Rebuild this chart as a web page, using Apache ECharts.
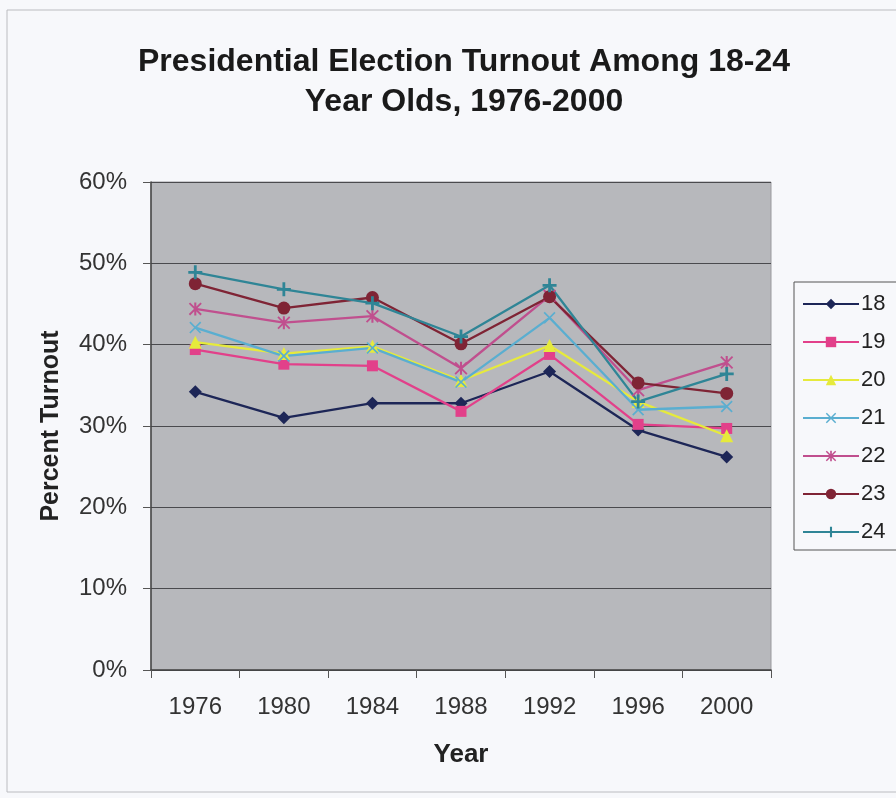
<!DOCTYPE html>
<html>
<head>
<meta charset="utf-8">
<script src="https://cdn.jsdelivr.net/npm/echarts@6/dist/echarts.min.js"></script>
<style>
  html, body { margin: 0; padding: 0; background: #f7f8fb; }
  #chart { width: 896px; height: 798px; }
</style>
</head>
<body>
<div id="chart"></div>
<script>
// Election years on the category axis
const years = ['1976', '1980', '1984', '1988', '1992', '1996', '2000'];
const yTicks = [0, 10, 20, 30, 40, 50, 60];

// Turnout (%) by single year of age
const age18 = [34.2, 31.0, 32.8, 32.8, 36.7, 29.5, 26.2];
const age19 = [39.4, 37.6, 37.4, 31.8, 38.8, 30.2, 29.7];
const age20 = [40.3, 38.9, 39.8, 35.6, 39.9, 33.0, 28.8];
const age21 = [42.1, 38.6, 39.6, 35.4, 43.3, 32.0, 32.4];
const age22 = [44.4, 42.7, 43.5, 37.1, 46.0, 34.4, 37.8];
const age23 = [47.5, 44.5, 45.8, 40.1, 45.9, 35.3, 34.0];
const age24 = [48.9, 46.8, 45.1, 41.0, 47.3, 33.0, 36.4];

const seriesNames = ['18', '19', '20', '21', '22', '23', '24'];
const seriesValues = [age18, age19, age20, age21, age22, age23, age24];

const colors = ['#1d2657', '#e2408a', '#e6ea3c', '#5aaed0', '#c04f8e', '#7f2435', '#2f8596'];

const plusPath = 'path://M-1,-5 L1,-5 L1,-1 L5,-1 L5,1 L1,1 L1,5 L-1,5 L-1,1 L-5,1 L-5,-1 L-1,-1 Z';
const crossPath = 'path://M-5,-4 L-4,-5 L5,4 L4,5 Z M4,-5 L5,-4 L-4,5 L-5,4 Z';
const starPath = 'path://M-0.8,-5 L0.8,-5 L0.8,5 L-0.8,5 Z M-5,-4 L-4,-5 L5,4 L4,5 Z M4,-5 L5,-4 L-4,5 L-5,4 Z';
const symbols = ['diamond', 'rect', 'triangle', crossPath, starPath, 'circle', plusPath];
const symbolSizes = [13, 11, 13, 12, 13, 13, 14];

const chart = echarts.init(document.getElementById('chart'), null, { renderer: 'canvas' });

const font = '"Liberation Sans", Arial, sans-serif';

chart.setOption({
  backgroundColor: '#f7f8fb',
  animation: false,
  title: {
    text: 'Presidential Election Turnout Among 18-24\nYear Olds, 1976-2000',
    left: 459,
    textAlign: 'center',
    top: 37,
    textStyle: { fontFamily: font, fontSize: 32, fontWeight: 'bold', color: '#1a1a1a', lineHeight: 40 }
  },
  legend: {
    orient: 'vertical',
    left: 794,
    top: 282,
    padding: [10, 14, 6, 8],
    itemWidth: 56,
    itemHeight: 13,
    itemGap: 14,
    borderColor: '#555',
    borderWidth: 1,
    backgroundColor: '#f7f8fb',
    textStyle: { fontFamily: font, fontSize: 22, color: '#222', lineHeight: 24, padding: [0, 0, 0, -3] },
    data: seriesNames
  },
  grid: {
    left: 151,
    right: 125,
    top: 182,
    bottom: 128,
    show: true,
    backgroundColor: '#b7b8bc',
    borderColor: '#9a9a9e',
    borderWidth: 1
  },
  xAxis: {
    type: 'category',
    data: years,
    boundaryGap: true,
    name: 'Year',
    nameLocation: 'middle',
    nameGap: 72,
    nameTextStyle: { fontFamily: font, fontSize: 26, fontWeight: 'bold', color: '#222' },
    axisLine: { lineStyle: { color: '#444', width: 1.5 } },
    axisTick: { show: true, length: 8, lineStyle: { color: '#555' } },
    axisLabel: { fontFamily: font, fontSize: 24, color: '#333', margin: 25 }
  },
  yAxis: {
    type: 'value',
    min: yTicks[0],
    max: yTicks[yTicks.length - 1],
    interval: 10,
    name: 'Percent Turnout',
    nameLocation: 'middle',
    nameGap: 87,
    nameTextStyle: { fontFamily: font, fontSize: 25, fontWeight: 'bold', color: '#222' },
    axisLine: { show: true, lineStyle: { color: '#444', width: 1.5 } },
    axisTick: { show: true, length: 8, lineStyle: { color: '#555' } },
    axisLabel: { fontFamily: font, fontSize: 24, color: '#333', margin: 24, formatter: '{value}%' },
    splitLine: { show: true, lineStyle: { color: '#4a4a4e', width: 1 } }
  },
  graphic: [
    {
      type: 'rect',
      shape: { x: 7, y: 10, width: 900, height: 782 },
      style: { fill: 'none', stroke: '#bbbcc0', lineWidth: 1 },
      silent: true,
      z: -1
    }
  ],
  series: seriesNames.map((name, i) => ({
    name: name,
    type: 'line',
    data: seriesValues[i],
    symbol: symbols[i],
    symbolSize: symbolSizes[i],
    showAllSymbol: true,
    lineStyle: { color: colors[i], width: 2.3 },
    itemStyle: { color: colors[i] },
    emphasis: { disabled: true }
  }))
});
</script>
</body>
</html>
